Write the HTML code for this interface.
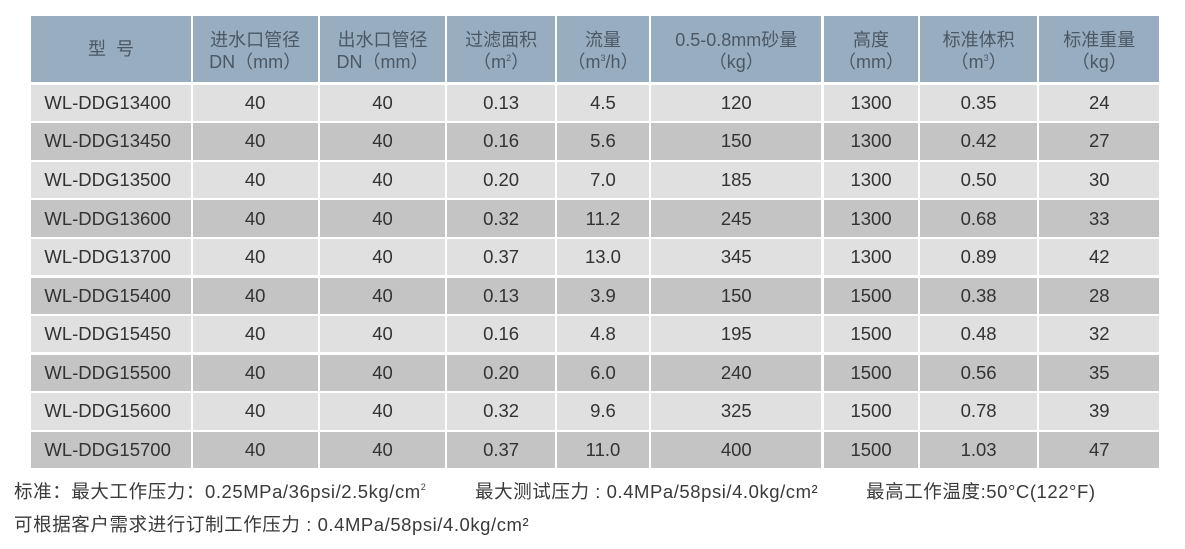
<!DOCTYPE html>
<html>
<head>
<meta charset="utf-8">
<style>
html,body{margin:0;padding:0;background:#fff;}
body{width:1185px;height:549px;position:relative;overflow:hidden;font-family:"Liberation Sans","Noto Sans CJK SC",sans-serif;}
.r{position:absolute;left:0;width:1185px;}
.c{position:absolute;top:0;height:100%;display:flex;align-items:center;justify-content:center;box-sizing:border-box;text-align:center;}
.c1{left:31.4px;width:159.2px}
.c2{left:192.6px;width:125.1px}
.c3{left:320px;width:125px}
.c4{left:447.3px;width:107.6px}
.c5{left:557.2px;width:91.6px}
.c6{left:651.1px;width:170.4px}
.c7{left:823.8px;width:94.5px}
.c8{left:920.2px;width:116.8px}
.c9{left:1039.3px;width:120px}
.h{top:16px;height:66px;}
.h .c{background:#98adbf;color:#4c5864;font-size:18px;line-height:22px;flex-direction:column;padding-top:3px;font-family:"Liberation Sans","Noto Sans CJK SC",sans-serif;}
.h sup{font-size:9px;line-height:0;vertical-align:7px;}
.d{height:36.4px;}
.d .c{font-size:18.5px;color:#333;}
.d .c1{justify-content:flex-start;padding-left:13px;}
.L .c{background:#e0e0e0;}
.D .c{background:#c4c4c4;}
.f{position:absolute;font-size:18.5px;letter-spacing:0.6px;color:#3a3a3a;white-space:nowrap;line-height:20px;font-family:"Liberation Sans","Noto Sans CJK SC",sans-serif;}
.f .n{letter-spacing:0.55px;}
.f sup{font-size:9px;line-height:0;vertical-align:8px;}
</style>
</head>
<body>
<div class="r h">
<div class="c c1" style="padding-top:0">型&nbsp;&nbsp;号</div>
<div class="c c2"><div>进水口管径</div><div>DN（mm）</div></div>
<div class="c c3"><div>出水口管径</div><div>DN（mm）</div></div>
<div class="c c4"><div>过滤面积</div><div>（m<sup>2</sup>）</div></div>
<div class="c c5"><div>流量</div><div>（m<sup>3</sup>/h）</div></div>
<div class="c c6"><div>0.5-0.8mm砂量</div><div>（kg）</div></div>
<div class="c c7"><div>高度</div><div>（mm）</div></div>
<div class="c c8"><div>标准体积</div><div>（m<sup>3</sup>）</div></div>
<div class="c c9"><div>标准重量</div><div>（kg）</div></div>
</div>

<div class="r d L" style="top:84.7px"><div class="c c1">WL-DDG13400</div><div class="c c2">40</div><div class="c c3">40</div><div class="c c4">0.13</div><div class="c c5">4.5</div><div class="c c6">120</div><div class="c c7">1300</div><div class="c c8">0.35</div><div class="c c9">24</div></div>
<div class="r d D" style="top:123.26px"><div class="c c1">WL-DDG13450</div><div class="c c2">40</div><div class="c c3">40</div><div class="c c4">0.16</div><div class="c c5">5.6</div><div class="c c6">150</div><div class="c c7">1300</div><div class="c c8">0.42</div><div class="c c9">27</div></div>
<div class="r d L" style="top:161.82px"><div class="c c1">WL-DDG13500</div><div class="c c2">40</div><div class="c c3">40</div><div class="c c4">0.20</div><div class="c c5">7.0</div><div class="c c6">185</div><div class="c c7">1300</div><div class="c c8">0.50</div><div class="c c9">30</div></div>
<div class="r d D" style="top:200.38px"><div class="c c1">WL-DDG13600</div><div class="c c2">40</div><div class="c c3">40</div><div class="c c4">0.32</div><div class="c c5">11.2</div><div class="c c6">245</div><div class="c c7">1300</div><div class="c c8">0.68</div><div class="c c9">33</div></div>
<div class="r d L" style="top:238.94px"><div class="c c1">WL-DDG13700</div><div class="c c2">40</div><div class="c c3">40</div><div class="c c4">0.37</div><div class="c c5">13.0</div><div class="c c6">345</div><div class="c c7">1300</div><div class="c c8">0.89</div><div class="c c9">42</div></div>
<div class="r d D" style="top:277.5px"><div class="c c1">WL-DDG15400</div><div class="c c2">40</div><div class="c c3">40</div><div class="c c4">0.13</div><div class="c c5">3.9</div><div class="c c6">150</div><div class="c c7">1500</div><div class="c c8">0.38</div><div class="c c9">28</div></div>
<div class="r d L" style="top:316.06px"><div class="c c1">WL-DDG15450</div><div class="c c2">40</div><div class="c c3">40</div><div class="c c4">0.16</div><div class="c c5">4.8</div><div class="c c6">195</div><div class="c c7">1500</div><div class="c c8">0.48</div><div class="c c9">32</div></div>
<div class="r d D" style="top:354.62px"><div class="c c1">WL-DDG15500</div><div class="c c2">40</div><div class="c c3">40</div><div class="c c4">0.20</div><div class="c c5">6.0</div><div class="c c6">240</div><div class="c c7">1500</div><div class="c c8">0.56</div><div class="c c9">35</div></div>
<div class="r d L" style="top:393.18px"><div class="c c1">WL-DDG15600</div><div class="c c2">40</div><div class="c c3">40</div><div class="c c4">0.32</div><div class="c c5">9.6</div><div class="c c6">325</div><div class="c c7">1500</div><div class="c c8">0.78</div><div class="c c9">39</div></div>
<div class="r d D" style="top:431.74px"><div class="c c1">WL-DDG15700</div><div class="c c2">40</div><div class="c c3">40</div><div class="c c4">0.37</div><div class="c c5">11.0</div><div class="c c6">400</div><div class="c c7">1500</div><div class="c c8">1.03</div><div class="c c9">47</div></div>

<div class="f" style="left:14px;top:482px;">标准：最大工作压力：<span class="n">0.25MPa/36psi/2.5kg/cm</span><sup>2</sup></div>
<div class="f" style="left:475px;top:482px;">最大测试压力<span class="n"> : 0.4MPa/58psi/4.0kg/cm²</span></div>
<div class="f" style="left:866px;top:482px;">最高工作温度<span class="n">:50°C(122°F)</span></div>
<div class="f" style="left:14px;top:515px;">可根据客户需求进行订制工作压力<span class="n"> : 0.4MPa/58psi/4.0kg/cm²</span></div>
</body>
</html>
